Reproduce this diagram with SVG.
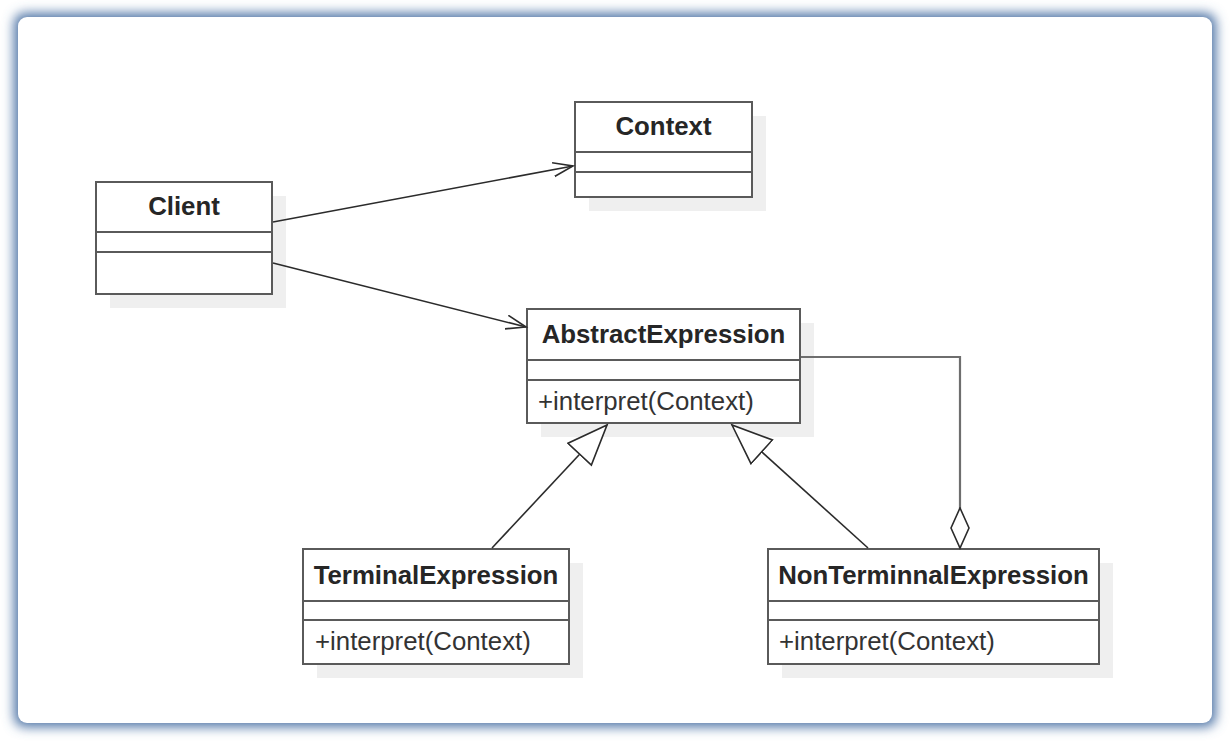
<svg xmlns="http://www.w3.org/2000/svg" width="1230" height="742" viewBox="0 0 1230 742">
<style>
.box{fill:#ffffff;stroke:#5a5a5a;stroke-width:2}
.shadow{fill:#efefef}
.sep{stroke:#5a5a5a;stroke-width:2}
.name{font-family:"Liberation Sans",Arial,sans-serif;font-size:25.8px;font-weight:bold;fill:#262626;text-anchor:middle}
.op{font-family:"Liberation Sans",Arial,sans-serif;font-size:25.8px;fill:#333}
.assoc{fill:none;stroke:#2b2b2b;stroke-width:1.6}
.agg{fill:none;stroke:#6e6e6e;stroke-width:2.2}
</style>
<defs>
<filter id="glow" x="-5%" y="-5%" width="110%" height="110%">
<feGaussianBlur stdDeviation="6"/>
</filter>
<marker id="open" markerUnits="userSpaceOnUse" markerWidth="24" markerHeight="18" refX="20" refY="8" orient="auto" viewBox="0 0 24 18">
<path d="M0,1 L20,8 L0,15" fill="none" stroke="#2b2b2b" stroke-width="1.6"/>
</marker>
<marker id="tri" markerUnits="userSpaceOnUse" markerWidth="44" markerHeight="36" refX="41" refY="17" orient="auto" viewBox="0 0 44 36">
<path d="M41,17 L1,1 L1,33 Z" fill="#ffffff" stroke="#2b2b2b" stroke-width="1.6"/>
</marker>
<marker id="diamond" markerUnits="userSpaceOnUse" markerWidth="44" markerHeight="24" refX="41" refY="10" orient="auto" viewBox="0 0 44 24">
<path d="M1,10 L21,1 L41,10 L21,19 Z" fill="#ffffff" stroke="#2b2b2b" stroke-width="1.6"/>
</marker>
</defs>
<rect x="0" y="0" width="1230" height="742" fill="#ffffff"/>
<rect x="14" y="13" width="1202" height="714" rx="11" fill="#4f74a6" filter="url(#glow)"/>
<rect x="18" y="17" width="1194" height="706" rx="9" fill="#ffffff"/>

<g id="client">
<rect class="shadow" x="110" y="196" width="176" height="112"/>
<rect class="box" x="96" y="182" width="176" height="112"/>
<line class="sep" x1="96" y1="232" x2="272" y2="232"/>
<line class="sep" x1="96" y1="252" x2="272" y2="252"/>
<text class="name" x="184" y="215">Client</text>
</g>

<g id="context">
<rect class="shadow" x="589" y="116" width="177" height="95"/>
<rect class="box" x="575" y="102" width="177" height="95"/>
<line class="sep" x1="575" y1="152" x2="752" y2="152"/>
<line class="sep" x1="575" y1="172" x2="752" y2="172"/>
<text class="name" x="663.5" y="135">Context</text>
</g>

<g id="abstractexpression">
<rect class="shadow" x="541" y="323" width="273" height="114"/>
<rect class="box" x="527" y="309" width="273" height="114"/>
<line class="sep" x1="527" y1="360" x2="800" y2="360"/>
<line class="sep" x1="527" y1="380" x2="800" y2="380"/>
<text class="name" x="663.5" y="343">AbstractExpression</text>
<text class="op" x="538" y="410">+interpret(Context)</text>
</g>

<g id="terminalexpression">
<rect class="shadow" x="317" y="563" width="266" height="115"/>
<rect class="box" x="303" y="549" width="266" height="115"/>
<line class="sep" x1="303" y1="601" x2="569" y2="601"/>
<line class="sep" x1="303" y1="620" x2="569" y2="620"/>
<text class="name" x="436" y="584">TerminalExpression</text>
<text class="op" x="315" y="650">+interpret(Context)</text>
</g>

<g id="nonterminnalexpression">
<rect class="shadow" x="782" y="563" width="331" height="115"/>
<rect class="box" x="768" y="549" width="331" height="115"/>
<line class="sep" x1="768" y1="601" x2="1099" y2="601"/>
<line class="sep" x1="768" y1="620" x2="1099" y2="620"/>
<text class="name" x="933.5" y="584">NonTerminnalExpression</text>
<text class="op" x="779" y="650">+interpret(Context)</text>
</g>

<g id="connectors">
<line class="assoc" x1="273" y1="222" x2="573" y2="166" marker-end="url(#open)"/>
<line class="assoc" x1="273" y1="263" x2="526" y2="327" marker-end="url(#open)"/>
<line class="assoc" x1="492" y1="548" x2="607" y2="425" marker-end="url(#tri)"/>
<line class="assoc" x1="868" y1="548" x2="732" y2="425" marker-end="url(#tri)"/>
<polyline class="agg" points="801,357 960,357 960,548" marker-end="url(#diamond)"/>
</g>
</svg>
